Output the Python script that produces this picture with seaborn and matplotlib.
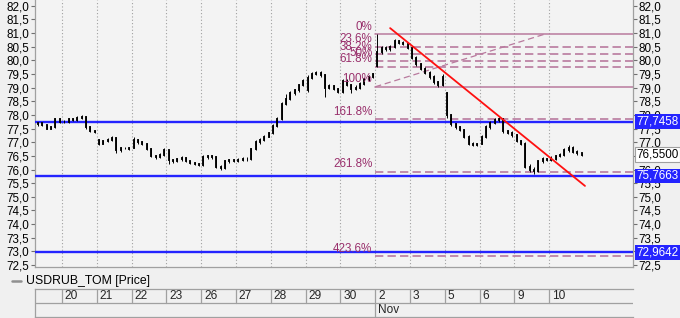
import matplotlib
matplotlib.use("Agg")
import matplotlib.pyplot as plt
import matplotlib.transforms as mtransforms
from matplotlib.lines import Line2D
from matplotlib.ticker import MultipleLocator, FuncFormatter
import numpy as np
import pandas as pd
import seaborn as sns

# ---------------- data ----------------
days = ['19', '20', '21', '22', '23', '26', '27', '28', '29', '30',
        '2', '3', '5', '6', '9', '10']
bars_in_day = [6] + [8] * 15
month_label = 'Nov'
month_start_day = '2'

opens = [
    77.65, 77.70, 77.62, 77.50, 77.55, 77.85,
    77.75, 77.75, 77.85, 77.82, 77.90, 77.92, 77.55, 77.42,
    77.10, 76.95, 77.05, 77.10, 77.15, 76.70, 76.78, 76.80,
    76.80, 77.10, 77.00, 76.95, 76.75, 76.50, 76.45, 76.55,
    76.70, 76.35, 76.30, 76.38, 76.42, 76.30, 76.25, 76.22,
    76.15, 76.45, 76.50, 76.45, 76.10, 76.05, 76.30, 76.35,
    76.30, 76.35, 76.40, 76.38, 76.75, 77.00, 77.10, 77.20,
    77.35, 77.60, 77.85, 78.40, 78.60, 78.80, 78.90, 79.10,
    78.90, 79.35, 79.50, 79.55, 79.45, 79.00, 79.05, 78.95,
    78.85, 79.25, 79.10, 78.95, 79.00, 79.15, 79.30, 79.40,
    79.80, 80.30, 80.45, 80.40, 80.50, 80.70, 80.65, 80.60,
    80.45, 80.10, 79.85, 79.70, 79.55, 79.40, 79.20, 79.10,
    78.80, 78.00, 77.65, 77.55, 77.45, 77.20, 76.95, 76.90,
    76.95, 77.20, 77.55, 77.70, 77.80, 77.85, 77.40, 77.35,
    77.25, 77.05, 76.95, 76.10, 76.00, 75.95, 76.30, 76.38,
    76.35, 76.40, 76.50, 76.55, 76.70, 76.80, 76.65, 76.60,
]
highs = [
    77.75, 77.72, 77.64, 77.58, 77.88, 77.87,
    77.80, 77.88, 77.88, 77.95, 78.00, 77.95, 77.58, 77.45,
    77.12, 77.10, 77.15, 77.22, 77.20, 76.82, 76.84, 76.82,
    77.18, 77.12, 77.05, 76.98, 76.78, 76.55, 76.60, 76.78,
    76.72, 76.40, 76.42, 76.48, 76.45, 76.33, 76.28, 76.25,
    76.52, 76.55, 76.52, 76.48, 76.15, 76.35, 76.40, 76.38,
    76.42, 76.45, 76.46, 76.80, 77.10, 77.15, 77.25, 77.38,
    77.68, 77.92, 78.48, 78.75, 78.88, 78.95, 79.15, 79.30,
    79.45, 79.58, 79.62, 79.60, 79.50, 79.12, 79.10, 79.00,
    79.30, 79.30, 79.15, 79.08, 79.22, 79.35, 79.45, 79.55,
    80.95, 80.52, 80.52, 80.58, 80.78, 80.75, 80.70, 80.62,
    80.50, 80.15, 79.90, 79.75, 79.60, 79.45, 79.25, 79.50,
    78.85, 78.05, 77.70, 77.60, 77.50, 77.25, 77.00, 76.98,
    77.26, 77.62, 77.76, 77.88, 77.92, 77.90, 77.45, 77.40,
    77.30, 77.10, 77.00, 76.20, 76.10, 76.35, 76.45, 76.42,
    76.48, 76.55, 76.62, 76.78, 76.90, 76.85, 76.70, 76.62,
]
lows = [
    77.60, 77.58, 77.47, 77.48, 77.52, 77.72,
    77.70, 77.72, 77.78, 77.78, 77.85, 77.50, 77.38, 77.34,
    76.90, 76.92, 77.00, 77.05, 76.62, 76.66, 76.74, 76.72,
    76.78, 76.95, 76.90, 76.70, 76.45, 76.40, 76.42, 76.50,
    76.22, 76.25, 76.27, 76.33, 76.26, 76.20, 76.18, 76.12,
    76.12, 76.40, 76.40, 76.05, 75.98, 76.02, 76.25, 76.26,
    76.26, 76.30, 76.32, 76.35, 76.70, 76.95, 77.05, 77.18,
    77.30, 77.55, 77.80, 78.35, 78.55, 78.72, 78.85, 79.05,
    78.85, 79.30, 79.45, 79.40, 78.65, 78.95, 78.90, 78.80,
    78.80, 79.05, 78.80, 78.90, 78.95, 79.10, 79.25, 79.35,
    79.75, 80.25, 80.35, 80.35, 80.45, 80.60, 80.55, 80.40,
    80.05, 79.80, 79.65, 79.50, 79.30, 79.15, 79.03, 79.05,
    77.90, 77.60, 77.50, 77.40, 77.15, 76.90, 76.85, 76.86,
    76.92, 77.15, 77.50, 77.65, 77.75, 77.35, 77.30, 77.20,
    77.00, 76.90, 76.05, 75.90, 75.85, 75.92, 76.25, 76.30,
    76.30, 76.35, 76.45, 76.50, 76.65, 76.60, 76.55, 76.50,
]
closes = [
    77.70, 77.62, 77.50, 77.55, 77.85, 77.75,
    77.75, 77.85, 77.82, 77.90, 77.92, 77.55, 77.42, 77.38,
    76.95, 77.05, 77.10, 77.15, 76.70, 76.78, 76.80, 76.75,
    77.10, 77.00, 76.95, 76.75, 76.50, 76.45, 76.55, 76.70,
    76.35, 76.30, 76.38, 76.42, 76.30, 76.25, 76.22, 76.15,
    76.45, 76.50, 76.45, 76.10, 76.05, 76.30, 76.35, 76.30,
    76.35, 76.40, 76.38, 76.75, 77.00, 77.10, 77.20, 77.35,
    77.60, 77.85, 78.40, 78.60, 78.80, 78.90, 79.10, 79.25,
    79.35, 79.50, 79.55, 79.45, 79.00, 79.05, 78.95, 78.85,
    79.25, 79.10, 78.95, 79.00, 79.15, 79.30, 79.40, 79.50,
    80.30, 80.45, 80.40, 80.50, 80.70, 80.65, 80.60, 80.45,
    80.10, 79.85, 79.70, 79.55, 79.40, 79.20, 79.10, 79.40,
    78.00, 77.65, 77.55, 77.45, 77.20, 76.95, 76.90, 76.92,
    77.20, 77.55, 77.70, 77.80, 77.85, 77.40, 77.35, 77.25,
    77.05, 76.95, 76.10, 76.00, 75.95, 76.30, 76.38, 76.35,
    76.40, 76.50, 76.55, 76.70, 76.80, 76.65, 76.60, 76.55,
]

# horizontal support / resistance levels
level_values = [77.7458, 75.7663, 72.9642]
level_labels = ['77,7458', '75,7663', '72,9642']
last_price = 76.55
last_label = '76,5500'

# Fibonacci extension (anchored at start of 2 Nov)
fib_labels = ['0%', '23.6%', '38.2%', '50%', '61.8%', '100%', '161.8%', '261.8%', '423.6%']
fib_values = [80.95, 80.50, 80.22, 79.99, 79.76, 79.03, 77.84, 75.92, 72.82]
fib_solid = [True, False, False, False, False, True, False, False, False]
fib_trend_x = [9.0, 13.85]
fib_trend_y = [79.03, 80.95]

# red trend line
trend_x = [9.43, 15.03]
trend_y = [81.18, 75.40]

series_name = 'USDRUB_TOM [Price]'

# ---------------- build frame ----------------
day_pos = list(range(-1, len(days) - 1))
xs = []
for d, n in zip(day_pos, bars_in_day):
    for k in range(8 - n, 8):
        xs.append(d + (k + 0.5) / 8)
df = pd.DataFrame(dict(x=xs, open=opens, high=highs, low=lows, close=closes))

# ---------------- style ----------------
sns.set_theme(style='white')
plt.rcParams['font.family'] = ['Liberation Sans', 'DejaVu Sans']
BG = '#f0f0f0'
GRID = '#a0a0a0'
FIBC = '#b97a9e'
FIBT = '#99306c'
BLUE = '#2424ff'
FS = 8.4

fig = plt.figure(figsize=(6.8, 3.18), dpi=100, facecolor=BG)
ax = fig.add_axes([35 / 680, 51 / 318, 598 / 680, 267 / 318])
ax.set_facecolor('#f3f3f3')
ax.set_xlim(-0.776, 16.41)
ax.set_ylim(72.43, 82.21)

# day separators
for d in day_pos[1:]:
    ax.axvline(d, color=GRID, ls=(0, (1, 2)), lw=0.8, zorder=1)

# blue horizontal levels
for v in level_values:
    ax.axhline(v, color=BLUE, lw=1.7, zorder=3)

# fib levels
xr = ax.get_xlim()[1]
for lab, v, solid in zip(fib_labels, fib_values, fib_solid):
    if solid:
        ax.plot([fib_trend_x[0], xr], [v, v], color=FIBC, lw=1.1, zorder=2)
    else:
        ax.plot([fib_trend_x[0], xr], [v, v], color=FIBC, lw=1.2,
                ls=(0, (5, 2.5)), zorder=2)
    ax.text(fib_trend_x[0] - 0.08, v + 0.06, lab, ha='right', va='bottom',
            color=FIBT, fontsize=FS, zorder=6)
sns.lineplot(x=fib_trend_x, y=fib_trend_y, ax=ax, color=FIBC, lw=0.9,
             dashes=False, zorder=2)
ax.lines[-1].set_linestyle((0, (5, 3)))

# candles
ax.vlines(df['x'], df['low'], df['high'], color='black', lw=0.7, zorder=4)
body_lo = df[['open', 'close']].min(axis=1)
body_hi = df[['open', 'close']].max(axis=1)
bodies = ax.vlines(df['x'], body_lo, body_hi, color='black', lw=1.35, zorder=4)
bodies.set_capstyle('projecting')

# red trend line
sns.lineplot(x=trend_x, y=trend_y, ax=ax, color='#ff1010', lw=1.3, zorder=5)

# axes styling
for s in ['left', 'right', 'bottom']:
    ax.spines[s].set_color(GRID)
    ax.spines[s].set_linewidth(0.9)
ax.spines['top'].set_visible(False)
ax.set_xticks([])
ax.yaxis.set_major_locator(MultipleLocator(0.5))
ax.yaxis.set_major_formatter(FuncFormatter(lambda v, p: f'{v:.1f}'.replace('.', ',')))
ax.tick_params(axis='y', left=True, right=True, labelleft=True, labelright=True,
               length=3, width=0.8, color='#707070', pad=1.2, labelsize=FS,
               labelcolor='black')
ax.set_ylim(72.43, 82.21)

# value boxes on the right axis
bt = mtransforms.blended_transform_factory(ax.transAxes, ax.transData)
for v, lab in zip(level_values, level_labels):
    ax.text(1.006, v, lab, transform=bt, ha='left', va='center', color='white',
            fontsize=FS, clip_on=False, zorder=20,
            bbox=dict(boxstyle='square,pad=0.12', fc=BLUE, ec='none'))
ax.text(1.006, last_price, last_label, transform=bt, ha='left', va='center',
        color='black', fontsize=FS, clip_on=False, zorder=20,
        bbox=dict(boxstyle='square,pad=0.12', fc='white', ec='#a0a0a0', lw=0.8))

# legend line
fig.add_artist(Line2D([12 / 680, 21 / 680], [1 - 281 / 318] * 2,
                      transform=fig.transFigure, color='#909090', lw=1.8))
fig.text(26 / 680, 1 - 281 / 318, series_name, ha='left', va='center',
         fontsize=FS + 0.4, color='black')

# date table
tab = fig.add_axes([35 / 680, 1 / 318, 598 / 680, 28 / 318], sharex=ax)
tab.set_facecolor(BG)
tab.set_ylim(0, 2)
tab.set_xticks([])
tab.set_yticks([])
for s in ['left', 'top', 'bottom']:
    tab.spines[s].set_color(GRID)
    tab.spines[s].set_linewidth(0.9)
tab.spines['right'].set_visible(False)
tab.axhline(1, color=GRID, lw=0.9)
m0 = day_pos[days.index(month_start_day)]
for d, lab in zip(day_pos[1:], days[1:]):
    tab.plot([d, d], [1, 2], color=GRID, lw=0.9)
    tab.text(d + 0.08, 1.48, lab, ha='left', va='center', fontsize=FS + 0.2)
tab.plot([m0, m0], [0, 1], color=GRID, lw=0.9)
tab.text(m0 + 0.08, 0.48, month_label, ha='left', va='center', fontsize=FS + 0.2)
tab.set_xlim(-0.776, 16.41)

fig.savefig('out.png', dpi=100, facecolor=BG)
